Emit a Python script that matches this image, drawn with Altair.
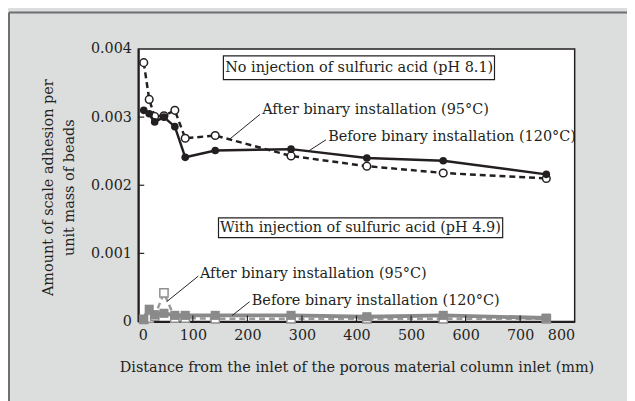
import altair as alt
import pandas as pd

# ---- data ----
x_pos = [10, 20, 30, 47, 67, 86, 141, 280, 419, 559, 748]
before_hi = [0.00310, 0.00305, 0.00293, 0.00300, 0.00286, 0.00241, 0.00251, 0.00253, 0.00240, 0.00236, 0.00216]
after_hi = [0.00380, 0.00326, 0.00301, 0.00302, 0.00310, 0.00269, 0.00273, 0.00243, 0.00228, 0.00218, 0.00210]
before_lo = [0.00003, 0.00018, 0.00010, 0.00012, 0.00009, 0.00009, 0.00009, 0.00009, 0.00007, 0.00009, 0.00005]
after_lo = [0.00003, 0.00005, 0.00008, 0.00042, 0.00005, 0.00005, 0.00004, 0.00004, 0.00004, 0.00004, 0.00004]

x_ticks = [0, 100, 200, 300, 400, 500, 600, 700, 800]
y_ticks = [0, 0.001, 0.002, 0.003, 0.004]

# annotation boxes
box_text = ["No injection of sulfuric acid (pH 8.1)", "With injection of sulfuric acid (pH 4.9)"]
box_x1 = [156, 147]
box_x2 = [653, 668]
box_y1 = [0.00390, 0.00152]
box_y2 = [0.00355, 0.00123]
box_tx = [405, 407]
box_ty = [0.003725, 0.001377]

# callout labels and leader lines
lab_text = ["After binary installation (95°C)", "Before binary installation (120°C)",
            "After binary installation (95°C)", "Before binary installation (120°C)"]
lab_x = [227, 348, 113, 208]
lab_y = [0.00310, 0.00271, 0.000696, 0.000304]
lead_x1 = [223, 344, 110, 204]
lead_y1 = [0.00304, 0.002667, 0.000667, 0.00029]
lead_x2 = [168, 313, 52, 172]
lead_y2 = [0.00268, 0.002507, 0.00029, 0.000087]

INK = "#231f20"
GRAY = "#8a8a8a"
FONT = "DejaVu Serif"
FS = 14.6

W, H = 442, 276

xs = alt.Scale(domain=[0, 800], nice=False)
ys = alt.Scale(domain=[0, 0.004], nice=False)

df_hi_b = pd.DataFrame({"x": x_pos, "y": before_hi})
df_hi_a = pd.DataFrame({"x": x_pos, "y": after_hi})
df_lo_b = pd.DataFrame({"x": x_pos, "y": before_lo})
df_lo_a = pd.DataFrame({"x": x_pos, "y": after_lo})

X = alt.X("x:Q", scale=xs, axis=alt.Axis(
    values=x_ticks, tickSize=0, labelFontSize=14.5, labelColor=INK, labelPadding=7,
    domainColor=INK, domainWidth=2, grid=False, labelFont=FONT,
    title="Distance from the inlet of the porous material column inlet (mm)",
    titleFont=FONT, titleFontSize=FS, titleFontWeight="normal", titleColor=INK,
    titleY=47, titleBaseline="middle"))
Y = alt.Y("y:Q", scale=ys, axis=alt.Axis(
    values=y_ticks, tickSize=0, labelFontSize=14.5, labelColor=INK, labelPadding=7,
    labelExpr="datum.value == 0 ? '0' : format(datum.value, '.3f')",
    domainColor=INK, domainWidth=2, grid=False, labelFont=FONT,
    title=["Amount of scale adhesion per", "unit mass of beads"],
    titleFont=FONT, titleFontSize=FS, titleFontWeight="normal", titleColor=INK,
    titleX=-91, titleY=140, titleBaseline="middle", titleLineHeight=21))

layers = []
# low series (gray): after (open) beneath, before (filled) on top
layers.append(alt.Chart(df_lo_a).mark_line(color="#9a9a9a", strokeWidth=2.5, strokeDash=[6, 4]).encode(x=X, y=Y))
layers.append(alt.Chart(df_lo_a).mark_point(shape="square", filled=True, fill="white", stroke="#909090", strokeWidth=1.5, size=70, opacity=1).encode(x="x:Q", y="y:Q"))
layers.append(alt.Chart(df_lo_b).mark_line(color=GRAY, strokeWidth=4).encode(x="x:Q", y="y:Q"))
layers.append(alt.Chart(df_lo_b).mark_point(shape="square", filled=True, color=GRAY, size=85, opacity=1).encode(x="x:Q", y="y:Q"))
# high series (black)
layers.append(alt.Chart(df_hi_a).mark_line(color=INK, strokeWidth=2.5, strokeDash=[6, 4]).encode(x="x:Q", y="y:Q"))
layers.append(alt.Chart(df_hi_a).mark_point(shape="circle", filled=True, fill="white", stroke=INK, strokeWidth=1.5, size=60, opacity=1).encode(x="x:Q", y="y:Q"))
layers.append(alt.Chart(df_hi_b).mark_line(color=INK, strokeWidth=2.5).encode(x="x:Q", y="y:Q"))
layers.append(alt.Chart(df_hi_b).mark_point(shape="circle", filled=True, color=INK, size=60, opacity=1).encode(x="x:Q", y="y:Q"))

# inward ticks
df_yt = pd.DataFrame({"y": y_ticks[1:-1]})
df_xt = pd.DataFrame({"x": x_ticks[1:-1]})
layers.append(alt.Chart(df_yt).mark_rule(color=INK, strokeWidth=1.2).encode(
    y="y:Q", x=alt.value(0), x2=alt.value(6)))
layers.append(alt.Chart(df_xt).mark_rule(color=INK, strokeWidth=1.2).encode(
    x="x:Q", y=alt.value(H), y2=alt.value(H - 6)))

# boxes
df_box = pd.DataFrame({"x1": box_x1, "x2": box_x2, "y1": box_y1, "y2": box_y2,
                       "tx": box_tx, "ty": box_ty, "t": box_text})
layers.append(alt.Chart(df_box).mark_rect(fill="white", stroke=INK, strokeWidth=1.2).encode(
    x="x1:Q", x2="x2:Q", y="y1:Q", y2="y2:Q"))
layers.append(alt.Chart(df_box).mark_text(font=FONT, fontSize=FS, color=INK, align="center", baseline="middle").encode(
    x="tx:Q", y="ty:Q", text="t:N"))

# leader lines and labels
df_lab = pd.DataFrame({"x": lab_x, "y": lab_y, "t": lab_text,
                       "x1": lead_x1, "y1": lead_y1, "x2": lead_x2, "y2": lead_y2})
layers.append(alt.Chart(df_lab).mark_rule(color=INK, strokeWidth=1).encode(
    x="x1:Q", y="y1:Q", x2="x2:Q", y2="y2:Q"))
layers.append(alt.Chart(df_lab).mark_text(font=FONT, fontSize=FS, color=INK, align="left", baseline="middle").encode(
    x="x:Q", y="y:Q", text="t:N"))

# outer frame lines (decorative)
layers.append(alt.Chart(pd.DataFrame({"a": [0]})).mark_rule(color="#6d6e71", strokeWidth=2).encode(
    x=alt.value(-131), y=alt.value(-37), y2=alt.value(400)))
layers.append(alt.Chart(pd.DataFrame({"a": [0]})).mark_rule(color="#6d6e71", strokeWidth=2).encode(
    x=alt.value(-131), x2=alt.value(600), y=alt.value(-37)))

chart = alt.layer(*layers).properties(
    width=W, height=H,
    autosize=alt.AutoSizeParams(type="none"),
    padding={"left": 132, "top": 39, "right": 53, "bottom": 78},
    background="#dcdddd",
).configure_view(stroke=INK, strokeWidth=1.5, fill="white")

chart.save("out.html", embed_options={"renderer": "svg", "actions": False})
